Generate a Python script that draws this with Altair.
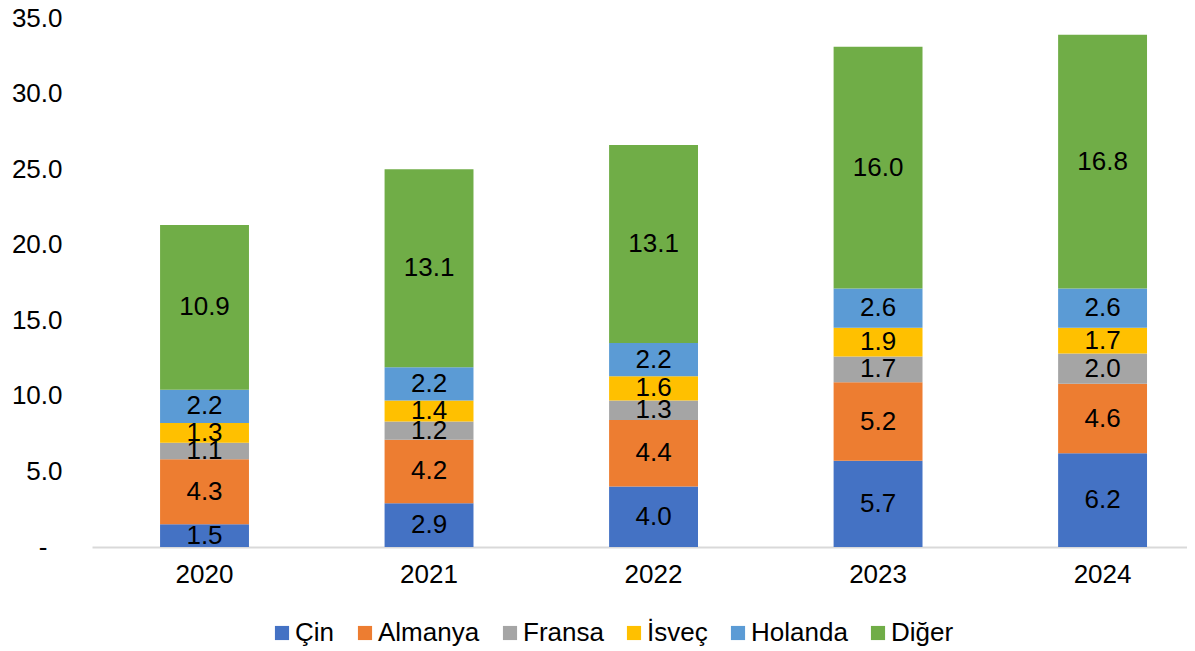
import altair as alt
import pandas as pd

years = ["2020", "2021", "2022", "2023", "2024"]
series = ["Çin", "Almanya", "Fransa", "İsveç", "Holanda", "Diğer"]
colors = ["#4472C4", "#ED7D31", "#A5A5A5", "#FFC000", "#5B9BD5", "#70AD47"]

cin = [1.5, 2.9, 4.0, 5.7, 6.2]
almanya = [4.3, 4.2, 4.4, 5.2, 4.6]
fransa = [1.1, 1.2, 1.3, 1.7, 2.0]
isvec = [1.3, 1.4, 1.6, 1.9, 1.7]
holanda = [2.2, 2.2, 2.2, 2.6, 2.6]
diger = [10.9, 13.1, 13.1, 16.0, 16.8]

values = [cin, almanya, fransa, isvec, holanda, diger]
rows = []
for si, (name, vals) in enumerate(zip(series, values)):
    for y, v in zip(years, vals):
        rows.append({"year": y, "series": name, "value": v, "order": si})
df = pd.DataFrame(rows)

FONT = "Liberation Sans"
FS = 26

base = alt.Chart(df).transform_stack(
    stack="value", groupby=["year"], as_=["y0", "y1"],
    sort=[alt.SortField("order", order="ascending")]
).transform_calculate(mid="(datum.y0 + datum.y1) / 2")

xenc = alt.X(
    "year:N", sort=years, title=None,
    scale=alt.Scale(paddingInner=0.604, paddingOuter=0.2406, align=0.63),
    axis=alt.Axis(labelAngle=0, labelFontSize=FS, labelFont=FONT, labelColor="#000000",
                  labelPadding=14, ticks=False, domainColor="#D9D9D9", domainWidth=2),
)

bars = base.mark_bar().encode(
    x=xenc,
    y=alt.Y("y0:Q", title=None,
            scale=alt.Scale(domain=[0, 35], nice=False),
            axis=alt.Axis(values=[0, 5, 10, 15, 20, 25, 30, 35], grid=False, domain=False,
                          ticks=False, labelFontSize=FS, labelFont=FONT, labelColor="#000000",
                          labelPadding={"condition": {"test": "datum.value == 0", "value": 45}, "value": 30},
                          labelExpr="datum.value == 0 ? '-' : format(datum.value, '.1f')")),
    y2="y1:Q",
    color=alt.Color("series:N", sort=series,
                    scale=alt.Scale(domain=series, range=colors),
                    legend=alt.Legend(title=None, orient="none", direction="horizontal",
                                      legendX=177, legendY=602,
                                      symbolType="square", symbolSize=200, symbolStrokeWidth=0,
                                      labelFontSize=FS, labelFont=FONT, labelColor="#000000",
                                      labelOffset=0, columnPadding=17)),
)

labels = base.mark_text(fontSize=FS, font=FONT, color="#000000").encode(
    x=alt.X("year:N", sort=years),
    y=alt.Y("mid:Q"),
    text=alt.Text("value:Q", format=".1f"),
)

chart = alt.layer(bars, labels).properties(
    width=1095, height=529,
    autosize=alt.AutoSizeParams(type="none"),
    padding={"left": 84, "top": 10, "right": 0, "bottom": 104},
).configure_view(stroke=None)

chart.save("out.html", embed_options={"renderer": "svg", "actions": False})
